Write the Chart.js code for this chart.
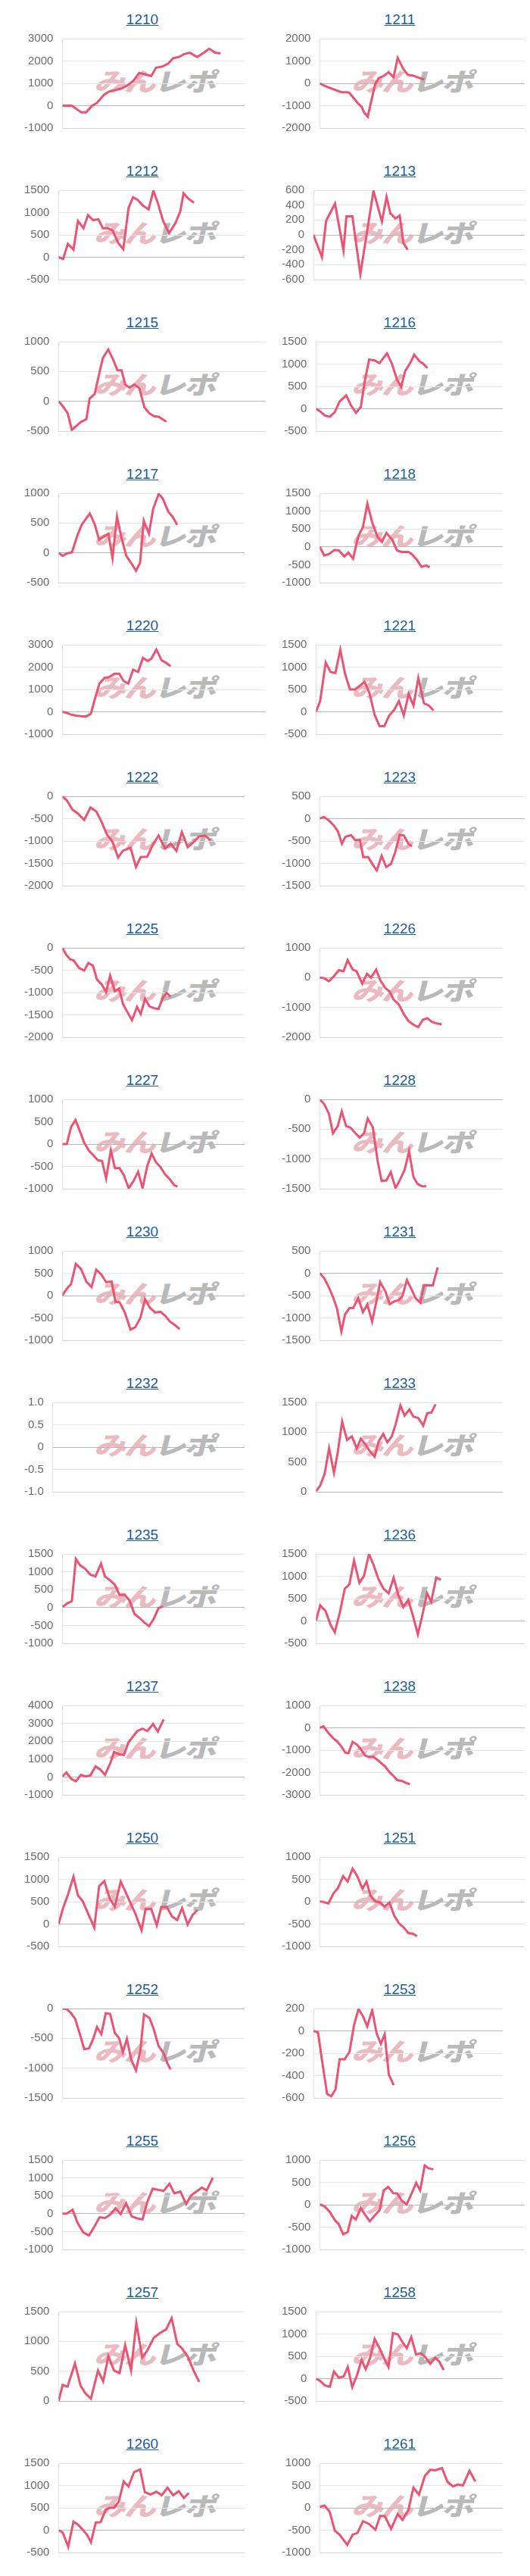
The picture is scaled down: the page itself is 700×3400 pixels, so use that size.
<!DOCTYPE html>
<html lang="ja">
<head>
<meta charset="UTF-8">
<title>スランプグラフ</title>
<script src="https://cdn.jsdelivr.net/npm/chart.js"></script>
<style>
  body { margin: 0; background: #fff; }
  #page { position: relative; width: 700px; height: 3400px; font-family: "Liberation Sans", Arial, sans-serif; }
  .cell { position: absolute; width: 350px; height: 200px; }
  .cell a { position: absolute; top: 15px; width: 200px; text-align: center; font-size: 19px; color: #1a5c9e; text-decoration: underline; }
  /* ウォーターマーク */
  .wm { position: absolute; top: 86px; width: 180px; text-align: center; font-family: "Noto Sans CJK JP", sans-serif; font-weight: 900; font-size: 33px; line-height: 40px; letter-spacing: -2px; transform: skewX(-14deg) scaleX(1.28); white-space: nowrap; }
  .wm .p { color: #ebb9c0; }
  .wm .g { color: #b9b9b9; }
  .cell canvas { position: absolute; top: 30px; }
</style>
</head>
<body>
<div id="page"></div>
<script>
// 台番号
const ids = ['1210','1211','1212','1213','1215','1216','1217','1218','1220','1221','1222','1223',
  '1225','1226','1227','1228','1230','1231','1232','1233','1235','1236','1237','1238',
  '1250','1251','1252','1253','1255','1256','1257','1258','1260','1261'];

// 差枚データ [x, y]
const d1210 = [[0,0],[2.6,0],[5.2,-300],[6.5,-300],[8.2,0],[9.5,130],[11.5,500],[12.8,630],[14.5,700],[16.1,760],[17.8,900],[19.4,1100],[21.1,1470],[22.8,1400],[24.4,1330],[25.7,1700],[27.4,1750],[29.0,1880],[30.4,2120],[32.0,2180],[33.3,2300],[35.0,2370],[37.0,2180],[39.0,2390],[40.3,2550],[41.9,2370],[43.4,2340]];
const d1211 = [[0,0],[1.3,-120],[3.1,-250],[5.2,-390],[7.0,-410],[7.3,-440],[9.0,-830],[10.2,-1050],[10.8,-1300],[11.7,-1490],[13.5,-40],[14.4,240],[15.6,330],[16.8,500],[18.0,270],[19.0,1140],[20.4,640],[21.5,380],[22.7,350],[23.9,270],[25.5,170]];
const d1212 = [[0,0],[1.2,-40],[2.5,300],[4.0,170],[5.2,810],[6.7,650],[7.9,940],[9.3,830],[10.7,850],[11.9,650],[13.2,650],[14.5,600],[16.1,310],[17.4,180],[18.8,1100],[20.0,1340],[21.3,1280],[22.6,1160],[24.2,1070],[25.5,1490],[26.8,1180],[28.1,810],[29.7,540],[31.4,760],[32.7,1020],[33.6,1430],[34.9,1310],[36.4,1220]];
const d1213 = [[0,0],[1.0,-150],[2.0,-300],[3.0,190],[4.2,320],[5.1,420],[7.1,-210],[7.8,250],[9.2,250],[11.1,-530],[14.2,590],[16.2,180],[17.3,510],[18.2,290],[19.4,220],[20.4,260],[21.3,-110],[22.3,-200]];
const d1215 = [[0,0],[1.0,-80],[2.2,-200],[3.2,-480],[4.2,-420],[5.3,-350],[6.7,-300],[7.5,50],[8.7,120],[9.7,430],[10.7,730],[12.0,870],[13.1,710],[14.2,520],[15.2,520],[16.1,280],[17.1,230],[18.3,280],[19.5,220],[20.7,-100],[21.9,-200],[23.0,-250],[24.2,-260],[26.0,-340]];
const d1216 = [[0,0],[1.1,-60],[2.4,-150],[3.7,-180],[5.0,-80],[6.3,160],[8.1,300],[9.4,70],[10.7,-90],[12.0,40],[13.0,590],[14.2,1100],[15.7,1080],[17.0,1020],[19.0,1240],[20.3,1010],[21.7,650],[22.8,490],[23.9,850],[25.2,1020],[26.3,1210],[27.7,1060],[28.7,1010],[29.8,910]];
const d1217 = [[0,0],[1.1,-50],[2.2,-10],[3.6,10],[5.1,300],[6.2,470],[8.4,660],[9.7,480],[10.9,220],[12.3,280],[13.4,320],[14.5,-90],[15.7,610],[16.8,280],[18.2,-50],[19.5,-170],[20.8,-300],[21.9,-170],[22.9,540],[24.3,320],[25.4,730],[26.9,990],[28.0,910],[29.5,690],[30.6,610],[31.9,470]];
const d1218 = [[0,0],[1.2,-240],[2.5,-200],[4.0,-90],[5.2,-100],[6.7,-270],[7.8,-160],[9.1,-330],[10.5,290],[11.8,560],[13.0,1210],[14.3,690],[15.8,270],[17.0,140],[18.2,390],[19.8,200],[21.1,-100],[22.3,-140],[24.2,-140],[25.1,-200],[26.5,-360],[27.8,-560],[29.0,-520],[30.0,-570]];
const d1220 = [[0,0],[1.0,-40],[2.2,-130],[3.4,-170],[4.8,-200],[5.9,-200],[7.0,-90],[8.0,580],[9.1,1260],[10.4,1520],[11.4,1550],[12.8,1700],[14.0,1700],[15.0,1390],[16.2,1260],[17.4,1890],[18.6,1780],[19.8,2410],[21.0,2270],[21.9,2380],[23.1,2790],[24.4,2300],[25.4,2200],[26.6,2040]];
const d1221 = [[0,0],[1.1,240],[2.6,1100],[3.9,890],[5.2,870],[6.5,1390],[7.8,840],[9.1,500],[10.4,500],[11.7,580],[13.0,670],[14.3,420],[15.7,-70],[17.0,-320],[18.3,-320],[19.6,-80],[20.9,40],[22.2,240],[23.5,-80],[24.8,400],[26.1,140],[27.4,760],[28.9,190],[30.2,140],[31.5,30]];
const d1222 = [[0,0],[1.2,-90],[2.8,-300],[4.2,-380],[6.0,-530],[7.7,-250],[9.3,-340],[10.7,-560],[12.2,-850],[13.7,-1010],[15.3,-1370],[16.6,-1220],[18.7,-1150],[20.2,-1580],[21.5,-1360],[23.3,-1350],[24.8,-1090],[26.4,-880],[28.2,-1170],[29.7,-1060],[31.3,-1220],[32.8,-800],[34.4,-1140],[35.9,-1030],[37.5,-900],[39.1,-880],[40.7,-980]];
const d1223 = [[0,0],[1.0,40],[2.2,-40],[3.4,-150],[4.4,-280],[5.4,-560],[6.2,-410],[7.6,-370],[8.6,-480],[9.8,-480],[10.6,-860],[11.8,-860],[12.8,-1010],[13.9,-1160],[15.1,-830],[16.2,-1080],[17.4,-1010],[18.4,-750],[19.5,-360],[20.5,-380],[21.7,-570],[22.5,-620]];
const d1225 = [[0,0],[1.1,-160],[2.2,-260],[3.1,-280],[4.6,-450],[6.0,-510],[7.1,-340],[8.4,-400],[9.5,-710],[10.9,-830],[12.0,-990],[13.1,-620],[14.4,-970],[15.6,-910],[16.6,-1250],[17.8,-1430],[19.1,-1620],[20.5,-1320],[21.5,-1480],[22.7,-1140],[23.9,-1310],[25.1,-1350],[26.4,-1370],[27.6,-1110],[28.6,-1010],[29.7,-1090]];
const d1226 = [[0,0],[1.2,-20],[2.5,-120],[3.8,40],[5.2,250],[6.5,210],[7.6,590],[9.0,270],[10.0,220],[11.6,-200],[12.9,130],[14.0,0],[15.4,270],[16.5,-80],[17.9,-350],[19.1,-470],[20.2,-740],[21.6,-900],[22.9,-1210],[24.2,-1450],[25.6,-1580],[26.9,-1660],[28.2,-1410],[29.4,-1360],[30.7,-1490],[32.1,-1540],[33.3,-1570]];
const d1227 = [[0,0],[1.2,0],[2.4,380],[3.6,540],[4.8,290],[6.0,30],[7.3,-150],[8.5,-250],[9.7,-360],[10.9,-380],[12.0,-770],[13.3,-140],[14.4,-540],[15.7,-540],[16.9,-700],[18.2,-990],[19.5,-830],[20.8,-620],[22.0,-990],[23.3,-490],[24.5,-210],[25.7,-410],[26.9,-510],[28.2,-680],[29.4,-780],[30.7,-920],[31.6,-950]];
const d1228 = [[0,0],[1.2,-80],[2.5,-240],[3.6,-570],[4.9,-450],[6.0,-200],[7.2,-450],[8.3,-470],[9.6,-560],[10.9,-640],[12.1,-570],[13.1,-320],[14.5,-470],[15.8,-1030],[16.9,-1370],[18.2,-1360],[19.4,-1220],[20.7,-1490],[22.0,-1340],[23.2,-1180],[24.4,-870],[25.6,-1300],[26.7,-1420],[28.0,-1460],[29.1,-1460]];
const d1230 = [[0,0],[1.1,140],[2.4,260],[3.7,710],[5.1,600],[6.6,310],[8.0,190],[9.3,580],[10.7,470],[12.0,300],[13.5,310],[14.6,-140],[15.7,-150],[17.1,-370],[18.7,-760],[20.0,-710],[21.4,-500],[22.7,-80],[24.0,-270],[25.5,-380],[26.9,-360],[28.2,-450],[29.5,-580],[30.9,-660],[32.2,-750]];
const d1231 = [[0,0],[1.2,-110],[2.5,-320],[3.6,-530],[4.7,-790],[5.9,-1300],[6.9,-920],[8.1,-780],[9.1,-780],[10.5,-560],[11.8,-870],[13.0,-700],[14.3,-1080],[15.4,-660],[16.5,-200],[17.9,-400],[19.1,-690],[20.4,-630],[21.6,-600],[22.6,-510],[23.8,-150],[25.0,-350],[26.2,-560],[27.5,-660],[28.5,-270],[29.6,-270],[30.9,-270],[32.2,130]];
const d1232 = [];
const d1233 = [[0,10],[1.1,100],[2.3,300],[3.5,730],[4.8,320],[5.8,650],[7.0,1180],[8.3,870],[9.6,930],[10.9,730],[12.0,890],[13.3,790],[14.3,690],[15.7,590],[16.8,850],[18.0,970],[19.1,830],[20.3,930],[21.3,1130],[22.6,1450],[23.7,1280],[25.0,1380],[26.1,1260],[27.4,1240],[28.7,1110],[29.8,1320],[30.9,1330],[32.0,1470]];
const d1235 = [[0,10],[1.2,110],[2.6,180],[3.7,1360],[4.9,1180],[6.2,1090],[7.7,920],[9.1,870],[10.6,1230],[11.7,870],[13.1,760],[14.4,640],[15.7,350],[17.1,360],[18.4,200],[19.8,-180],[21.1,-280],[22.4,-410],[23.8,-520],[25.1,-310],[26.4,-10],[27.6,30]];
const d1236 = [[0,10],[1.0,350],[2.3,220],[3.5,-90],[4.5,-250],[5.7,190],[6.9,720],[8.0,820],[9.1,1350],[10.4,850],[11.5,1010],[12.7,1500],[13.8,1250],[15.0,930],[16.2,720],[17.4,620],[18.6,970],[19.7,590],[20.9,310],[22.1,470],[23.3,90],[24.4,-300],[25.5,140],[26.6,620],[27.6,430],[28.8,970],[29.9,920]];
const d1237 = [[0,30],[1.1,250],[2.4,-100],[3.7,-240],[5.1,120],[6.4,30],[7.7,90],[9.1,590],[10.4,420],[11.7,120],[13.1,740],[14.2,1400],[15.6,1270],[16.9,1230],[18.1,1920],[19.3,2240],[20.6,2570],[22.0,2700],[23.3,2570],[24.9,2960],[26.2,2540],[27.8,3220]];
const d1238 = [[0,0],[0.9,70],[2.0,-210],[3.3,-470],[4.2,-600],[5.3,-840],[6.2,-1110],[7.0,-1140],[8.0,-630],[9.0,-740],[10.0,-950],[11.0,-1230],[12.0,-1300],[13.0,-1300],[14.0,-1420],[15.0,-1580],[15.9,-1720],[17.0,-1980],[18.0,-2160],[18.9,-2340],[19.9,-2370],[20.9,-2450],[22.0,-2530]];
const d1250 = [[0,0],[1.1,330],[2.6,680],[4.0,1060],[5.2,640],[6.5,510],[8.1,200],[9.6,-80],[10.9,850],[12.3,960],[13.8,560],[15.1,390],[16.7,950],[18.0,720],[19.5,440],[20.8,200],[22.3,-140],[23.4,340],[24.9,340],[26.4,-30],[27.6,380],[29.1,380],[30.5,170],[31.9,90],[33.2,360],[34.7,-10],[36.0,200],[37.3,310]];
const d1251 = [[0,10],[1.0,-10],[2.1,-40],[3.3,180],[4.4,300],[5.7,570],[6.8,450],[8.0,740],[9.2,560],[10.4,290],[11.4,450],[12.4,130],[13.5,10],[14.7,-20],[15.8,-110],[17.0,-20],[18.2,-320],[19.3,-480],[20.5,-580],[21.6,-700],[22.8,-720],[23.7,-770]];
const d1252 = [[0,0],[1.2,-10],[2.4,-80],[3.5,-170],[4.6,-390],[6.0,-680],[7.3,-670],[8.4,-520],[9.5,-310],[10.7,-430],[11.9,-80],[13.1,-90],[14.4,-410],[15.6,-500],[16.6,-730],[17.7,-510],[18.9,-860],[20.2,-1040],[21.4,-710],[22.4,-100],[23.9,-160],[25.1,-350],[26.4,-630],[27.8,-750],[28.8,-920],[29.7,-1020]];
const d1253 = [[0,0],[1.2,-15],[2.3,-275],[3.6,-565],[4.7,-585],[5.8,-525],[6.9,-255],[8.2,-255],[9.5,-190],[10.7,50],[11.9,195],[13.1,130],[14.2,40],[15.5,185],[16.7,-25],[17.8,-115],[18.8,-30],[19.9,-390],[21.2,-485]];
const d1255 = [[0,0],[1.2,0],[2.8,110],[4.2,-260],[5.7,-520],[7.3,-610],[8.8,-360],[10.2,-100],[11.7,-120],[13.1,-30],[14.6,150],[16.0,-10],[17.5,290],[19.0,-70],[20.5,-130],[22.0,-160],[23.3,330],[24.8,700],[26.2,670],[27.8,640],[29.4,840],[30.7,570],[32.4,620],[34.0,270],[35.3,510],[36.8,620],[38.3,730],[39.6,650],[41.3,1010]];
const d1256 = [[0,10],[1.2,-40],[2.5,-170],[3.7,-350],[4.6,-430],[5.7,-660],[6.8,-610],[7.8,-250],[8.8,-330],[10.0,-70],[11.1,-230],[12.2,-370],[13.4,-240],[14.6,-120],[15.6,320],[16.7,400],[17.9,260],[18.9,250],[20.0,90],[21.2,10],[22.4,250],[23.5,490],[24.5,320],[25.6,880],[26.5,820],[27.7,790]];
const d1257 = [[0,0],[1.1,270],[2.4,240],[4.4,630],[5.9,260],[7.2,130],[8.7,40],[10.6,510],[12.0,330],[13.4,750],[14.9,510],[16.4,470],[17.9,940],[19.5,510],[20.9,1310],[22.5,730],[23.8,840],[25.6,1060],[27.3,1140],[28.9,1200],[30.4,1390],[31.9,960],[33.2,880],[34.7,750],[36.3,510],[37.8,320]];
const d1258 = [[0,0],[1.1,-50],[2.4,-150],[3.7,-180],[4.8,160],[6.1,20],[7.4,50],[8.5,260],[9.7,-190],[11.0,80],[12.2,420],[13.3,210],[14.5,470],[15.7,890],[17.0,680],[18.1,480],[19.4,260],[20.6,1020],[21.9,990],[23.2,810],[24.3,680],[25.5,930],[26.8,540],[28.1,570],[29.3,480],[30.6,330],[31.9,470],[33.0,380],[34.2,190]];
const d1260 = [[0,0],[1.1,-50],[2.6,-370],[4.0,190],[5.3,120],[6.5,10],[7.7,-110],[8.7,-270],[10.0,170],[11.3,180],[12.7,460],[13.8,500],[14.9,500],[16.2,640],[17.5,1090],[18.8,980],[20.3,1300],[21.9,1360],[23.2,850],[24.7,800],[26.3,860],[27.7,780],[29.3,950],[30.8,780],[32.3,870],[33.7,720],[35.0,830]];
const d1261 = [[0,20],[1.3,50],[2.7,-90],[4.1,-510],[5.4,-600],[7.5,-830],[9.0,-600],[10.3,-560],[11.8,-300],[13.4,-360],[15.2,-490],[16.5,-180],[17.8,-190],[19.5,-470],[21.3,-140],[22.6,-270],[24.2,-50],[25.6,450],[27.1,290],[28.7,710],[30.2,850],[31.5,840],[33.4,890],[34.9,580],[36.4,480],[37.7,520],[39.1,500],[40.9,830],[42.5,590]];

const series = [d1210,d1211,d1212,d1213,d1215,d1216,d1217,d1218,d1220,d1221,d1222,d1223,
  d1225,d1226,d1227,d1228,d1230,d1231,d1232,d1233,d1235,d1236,d1237,d1238,
  d1250,d1251,d1252,d1253,d1255,d1256,d1257,d1258,d1260,d1261];

// Y軸の目盛り
const yMin  = [-1000,-2000,-500,-600,-500,-500,-500,-1000,-1000,-500,-2000,-1500,
  -2000,-2000,-1000,-1500,-1000,-1500,-1,0,-1000,-500,-1000,-3000,
  -500,-1000,-1500,-600,-1000,-1000,0,-500,-500,-1000];
const yMax  = [3000,2000,1500,600,1000,1500,1000,1500,3000,1500,0,500,
  0,1000,1000,0,1000,500,1,1500,1500,1500,4000,1000,
  1500,1000,0,200,1500,1000,1500,1500,1500,1000];
const yStep = [1000,1000,500,200,500,500,500,500,1000,500,500,500,
  500,1000,500,500,500,500,0.5,500,500,500,1000,1000,
  500,500,500,200,500,500,500,500,500,500];

// 横に広いグラフ
const wideIds = ['1211','1213','1215','1220','1223','1236','1238','1251','1256'];

const lineColor = '#ec5373';
const page = document.getElementById('page');

ids.forEach((id, i) => {
  const row = Math.floor(i / 2);
  const col = i % 2;
  const wide = wideIds.includes(id);

  const cell = document.createElement('div');
  cell.className = 'cell';
  cell.style.top = (row * 200) + 'px';
  cell.style.left = (col * 350) + 'px';

  const a = document.createElement('a');
  a.href = '#';
  a.textContent = id;
  a.style.left = (col === 0 ? 88 : 78) + 'px';
  cell.appendChild(a);

  const wm = document.createElement('div');
  wm.className = 'wm';
  wm.style.left = (col === 0 ? 117 : 107) + 'px';
  wm.innerHTML = '<span class="p">みん</span><span class="g">レポ</span>';
  cell.appendChild(wm);

  const cv = document.createElement('canvas');
  const w = col === 0 ? (wide ? 331 : 303) : (wide ? 333 : 304);
  cv.width = w;
  cv.height = 160;
  cv.style.width = w + 'px';
  cv.style.height = '160px';
  cv.style.left = (col === 0 ? 20 : 10) + 'px';
  cell.appendChild(cv);
  page.appendChild(cell);

  const step = yStep[i];
  new Chart(cv, {
    type: 'line',
    data: {
      datasets: [{
        data: series[i].map(p => ({ x: p[0], y: p[1] })),
        borderColor: lineColor,
        borderWidth: 3,
        pointRadius: 0,
        tension: 0,
        fill: false
      }]
    },
    options: {
      responsive: false,
      animation: false,
      devicePixelRatio: 1,
      layout: { padding: { top: 20, bottom: 13, left: 0, right: 0 } },
      plugins: { legend: { display: false }, tooltip: { enabled: false } },
      scales: {
        x: {
          type: 'linear', min: 0, max: 50,
          ticks: { display: false },
          grid: { display: false, drawTicks: false },
          border: { display: true, color: yMin[i] === 0 ? '#b8b8b8' : '#d6d6d6', width: 1 }
        },
        y: {
          min: yMin[i], max: yMax[i],
          ticks: {
            stepSize: step, padding: 12, color: '#6b6b6b',
            font: { family: '"Liberation Sans", Arial, sans-serif', size: 15 },
            callback: v => (step < 1 && v !== 0) ? v.toFixed(1) : String(v)
          },
          grid: {
            drawTicks: false,
            color: c => (c.tick && c.tick.value === 0) ? '#b8b8b8' : '#e6e6e6'
          },
          border: { color: '#e2e2e2' }
        }
      }
    }
  });
});
</script>
</body>
</html>
